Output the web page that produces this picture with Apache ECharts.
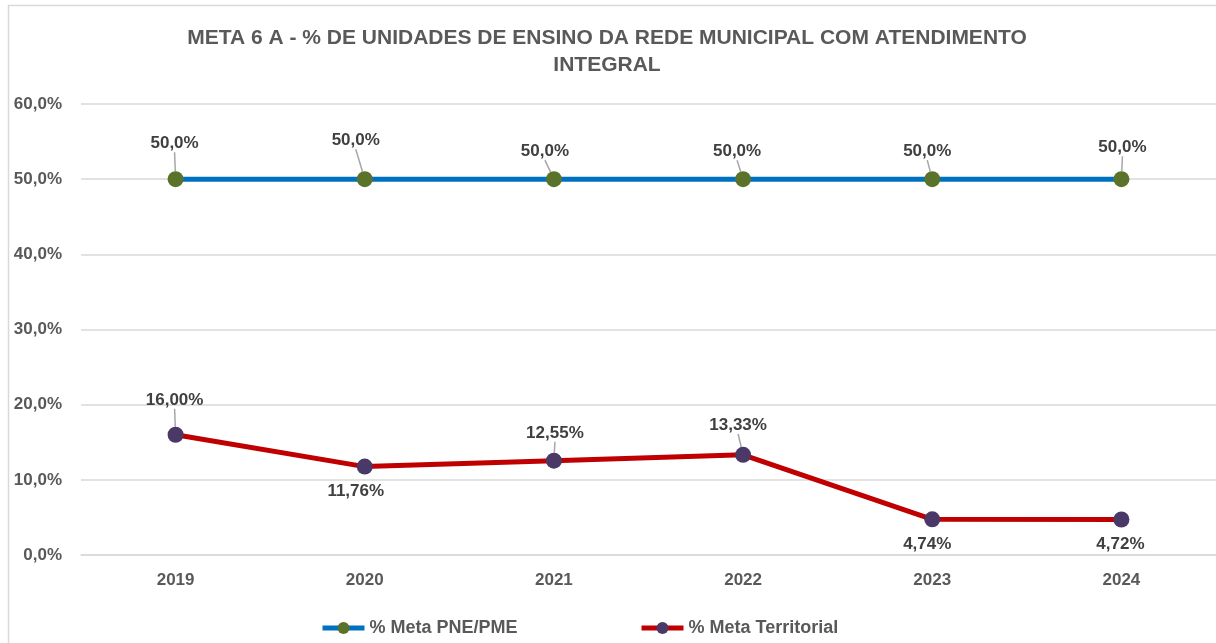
<!DOCTYPE html>
<html>
<head>
<meta charset="utf-8">
<script src="https://cdn.jsdelivr.net/npm/echarts@6/dist/echarts.min.js"></script>
<style>
	html, body { margin: 0; padding: 0; background: #fff; }
	#chart { width: 1216px; height: 643px; }
</style>
</head>
<body>
<div id="chart"></div>
<script>
const years = ['2019', '2020', '2021', '2022', '2023', '2024'];
const metaPne = [50, 50, 50, 50, 50, 50];
const metaTerritorial = [16.0, 11.76, 12.55, 13.33, 4.74, 4.72];
const yTicks = [0, 10, 20, 30, 40, 50, 60];

// label nudges, copied by eye from the excel chart
const pneLabelShift = [[-1, -14], [-9, -17], [-9, -6], [-6, -6], [-5, -6], [1, -10]];
const terLabelShift = [[-1, -13], [-9, 3], [1, -6], [-5, -8], [-5, 3], [-1, 3]];
const terLabelPos = ['top', 'bottom', 'top', 'top', 'bottom', 'bottom'];

const FONT = "'Liberation Sans', Arial, sans-serif";
const GREY = '#595959';

const fmt = function(v, dec) {
	return v.toFixed(dec).replace('.', ',') + '%';
};

const legendText = { fontFamily: FONT, fontSize: 18, fontWeight: 'bold', color: GREY };

const myChart = echarts.init(document.getElementById('chart'));

myChart.setOption({
	animation: false,
	textStyle: { fontFamily: FONT },
	title: {
		text: 'META 6 A - % DE UNIDADES DE ENSINO DA REDE MUNICIPAL COM ATENDIMENTO\nINTEGRAL',
		left: 602,
		top: 20,
		textAlign: 'center',
		textStyle: {
			fontFamily: FONT,
			fontSize: 21,
			fontWeight: 'bold',
			color: GREY,
			lineHeight: 27
		}
	},
	graphic: [
		{
			type: 'polyline',
			shape: { points: [[8.5, 643], [8.5, 5.5], [1216, 5.5]] },
			style: { stroke: '#d9d9d9', lineWidth: 1.5, fill: null },
			silent: true
		}
	],
	grid: {
		left: 81,
		right: -4,
		top: 104,
		bottom: 88
	},
	legend: [
		{
			data: ['% Meta PNE/PME'],
			left: 315,
			top: 614,
			itemWidth: 42,
			itemHeight: 15,
			lineStyle: { width: 5 },
			textStyle: legendText
		},
		{
			data: ['% Meta Territorial'],
			left: 634,
			top: 614,
			itemWidth: 42,
			itemHeight: 15,
			lineStyle: { width: 5 },
			textStyle: legendText
		}
	],
	xAxis: {
		type: 'category',
		data: years,
		boundaryGap: true,
		axisLine: { lineStyle: { color: '#d9d9d9', width: 1.5 } },
		axisTick: { show: false },
		axisLabel: {
			margin: 17,
			fontFamily: FONT,
			fontSize: 17,
			fontWeight: 'bold',
			color: GREY
		}
	},
	yAxis: {
		type: 'value',
		min: yTicks[0],
		max: yTicks[yTicks.length - 1],
		interval: yTicks[1] - yTicks[0],
		axisLine: { show: false },
		axisTick: { show: false },
		splitLine: { lineStyle: { color: '#d9d9d9', width: 1.5 } },
		axisLabel: {
			margin: 19,
			fontFamily: FONT,
			fontSize: 17,
			fontWeight: 'bold',
			color: GREY,
			formatter: function(v) {
				return fmt(v, 1);
			}
		}
	},
	series: [
		{
			name: '% Meta PNE/PME',
			type: 'line',
			data: metaPne,
			symbol: 'circle',
			symbolSize: 16,
			z: 3,
			lineStyle: { width: 5, color: '#0070c0' },
			itemStyle: { color: '#5b722b' },
			label: {
				show: true,
				position: 'top',
				distance: 5,
				fontFamily: FONT,
				fontSize: 17,
				fontWeight: 'bold',
				color: '#404040',
				formatter: function(p) {
					return fmt(p.value, 1);
				}
			},
			labelLine: { show: true, lineStyle: { color: '#a6a6a6', width: 1.5 } },
			labelLayout: function(p) {
				const s = pneLabelShift[p.dataIndex];
				return { dx: s[0], dy: s[1] };
			}
		},
		{
			name: '% Meta Territorial',
			type: 'line',
			data: metaTerritorial.map(function(v, i) {
				return {
					value: v,
					label: { position: terLabelPos[i] },
					labelLine: { show: terLabelPos[i] === 'top' }
				};
			}),
			symbol: 'circle',
			symbolSize: 16,
			z: 3,
			lineStyle: { width: 5, color: '#c00000' },
			itemStyle: { color: '#4a3866' },
			label: {
				show: true,
				distance: 5,
				fontFamily: FONT,
				fontSize: 17,
				fontWeight: 'bold',
				color: '#404040',
				formatter: function(p) {
					return fmt(p.value, 2);
				}
			},
			labelLine: { show: true, lineStyle: { color: '#a6a6a6', width: 1.5 } },
			labelLayout: function(p) {
				const s = terLabelShift[p.dataIndex];
				return { dx: s[0], dy: s[1] };
			}
		}
	]
});
</script>
</body>
</html>
